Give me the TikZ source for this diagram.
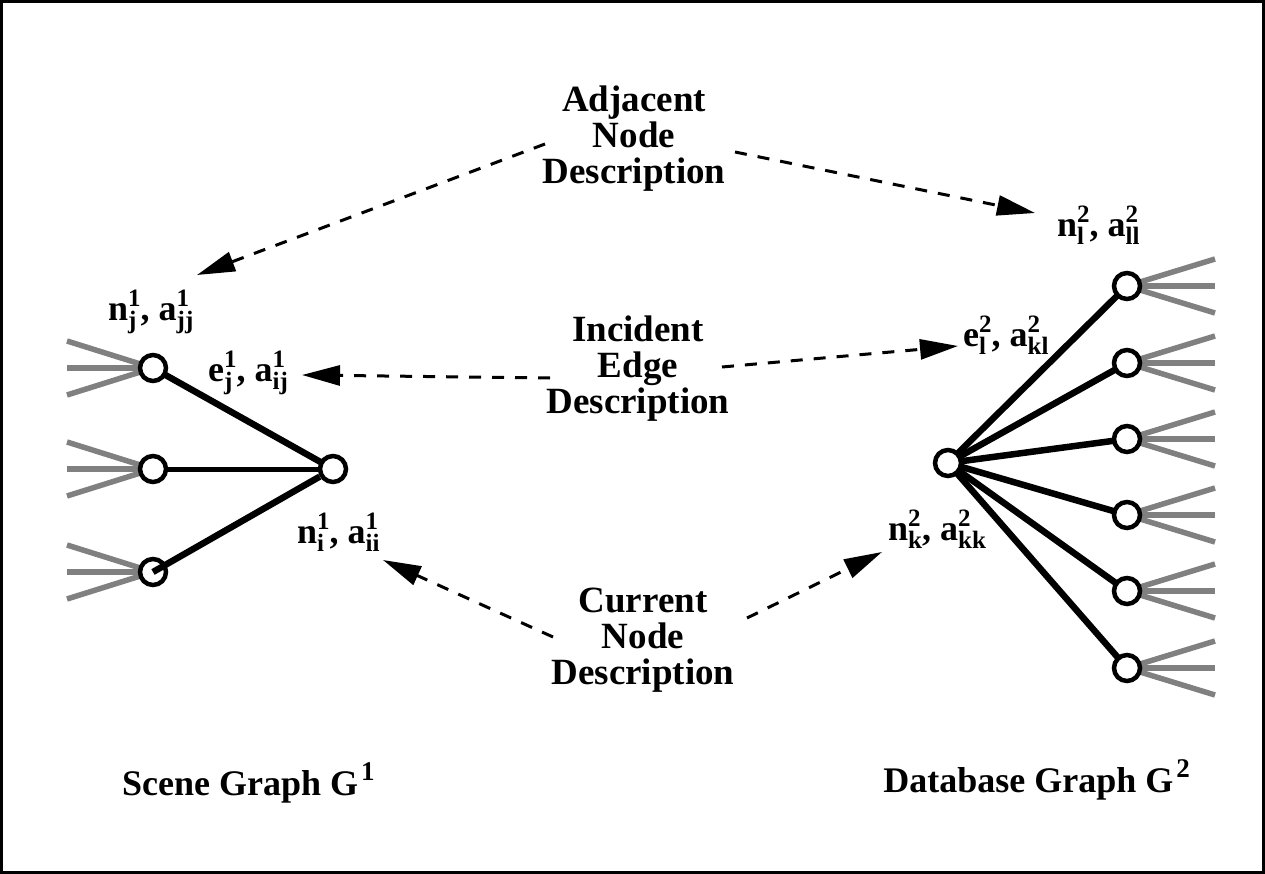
\documentclass[tikz,border=0pt]{standalone}
\usepackage{fontspec}
\setmainfont{Liberation Serif}
\usetikzlibrary{arrows.meta,backgrounds}
\definecolor{fangray}{RGB}{128,128,128}
\newcommand\lbl[3]{#1{\fontsize{25}{25}\selectfont\setbox0=\hbox{#2}\setbox2=\hbox{#3}\dimen0=\wd0 \ifdim\wd2>\dimen0 \dimen0=\wd2 \fi\rlap{\raise 14pt\box0}\rlap{\lower 8pt\box2}\kern\dimen0}}
\begin{document}
\begin{tikzpicture}[x=1pt,y=-1pt,
  vtx/.style={circle, draw, line width=4.5pt, fill=white, minimum size=26pt, inner sep=0pt},
  gedge/.style={line width=6.5pt},
  fan/.style={line width=5.5pt, draw=fangray},
  darr/.style={line width=3pt, dash pattern=on 12pt off 11pt, -{Triangle[length=38pt,width=20pt]}},
  txt/.style={font=\fontsize{37}{36}\selectfont\bfseries, align=center, inner sep=0pt},
  lab/.style={font=\fontsize{36}{36}\selectfont\bfseries, inner sep=0pt, anchor=base west}]
\useasboundingbox (0,0) rectangle (1265,874);

% left graph
\node[vtx] (hL) at (333,469) {};
\node[vtx] (l1) at (153,368) {};
\node[vtx] (l2) at (153,469) {};
\node[vtx] (l3) at (153,572) {};
% right graph
\node[vtx] (hR) at (948,463) {};
\foreach \i/\y in {1/286,2/363,3/439,4/515,5/591,6/668}{
  \node[vtx] (r\i) at (1127,\y) {};
}
\begin{scope}[on background layer]
  \draw[line width=3pt, fill=white] (1.5,1.5) rectangle (1263.5,872.5);
  \foreach \n in {l1,l2,l3}{
    \draw[fan] (\n.center) -- ++(-86,-27);
    \draw[fan] (\n.center) -- ++(-86,0);
    \draw[fan] (\n.center) -- ++(-86,27);
  }
  \foreach \i in {1,...,6}{
    \draw[fan] (r\i.center) -- ++(88,-27);
    \draw[fan] (r\i.center) -- ++(88,0);
    \draw[fan] (r\i.center) -- ++(88,27);
  }
  \draw[gedge] (hL.center) -- (l1.center);
  \draw[line width=5pt] (hL.center) -- (l2.center);
  \foreach \i in {1,...,6}{
    \draw[gedge] (hR.center) -- (r\i.center);
  }
\end{scope}
\draw[gedge] (hL) -- (l3.center);

% labels
\node[lab] (njl) at (108,320) {\lbl{n}{1}{j}, \lbl{a}{1}{jj}};
\node[lab] (ejl) at (208,381) {\lbl{e}{1}{j}, \lbl{a}{1}{ij}};
\node[lab] (nil) at (297,543) {\lbl{n}{1}{i}, \lbl{a}{1}{ii}};
\node[lab] (nll) at (1057,237) {\lbl{n}{2}{l}, \lbl{a}{2}{ll}};
\node[lab] (ell) at (963,346) {\lbl{e}{2}{l}, \lbl{a}{2}{kl}};
\node[lab] (nkl) at (888,540) {\lbl{n}{2}{k}, \lbl{a}{2}{kk}};

% descriptions
\node[txt] (adj) at (634,139) {Adjacent\\Node\\Description};
\node[txt] (inc) at (638,369) {Incident\\Edge\\Description};
\node[txt] (cur) at (643,640) {Current\\Node\\Description};

% graph titles
\node[lab] (t1) at (122,795) {Scene Graph G\kern3pt\raise15pt\hbox{\fontsize{27}{27}\selectfont 1}};
\node[lab, anchor=base east] (t2) at (1190,792) {Database Graph G\kern3pt\raise15pt\hbox{\fontsize{27}{27}\selectfont 2}};

% dashed arrows
\coordinate (a1s) at (545,144); \coordinate (a1e) at (197,275);
\coordinate (a2s) at (735,152); \coordinate (a2e) at (1035,213);
\coordinate (b1s) at (550,378); \coordinate (b1e) at (302,375);
\coordinate (b2s) at (722,367); \coordinate (b2e) at (958,346);
\coordinate (c1s) at (553,637); \coordinate (c1e) at (383,560);
\coordinate (c2s) at (747,618); \coordinate (c2e) at (882,552);
\draw[darr] (a1s) -- (a1e);
\draw[darr] (a2s) -- (a2e);
\draw[darr] (b1s) -- (b1e);
\draw[darr] (b2s) -- (b2e);
\draw[darr] (c1s) -- (c1e);
\draw[darr] (c2s) -- (c2e);
\end{tikzpicture}
\end{document}
